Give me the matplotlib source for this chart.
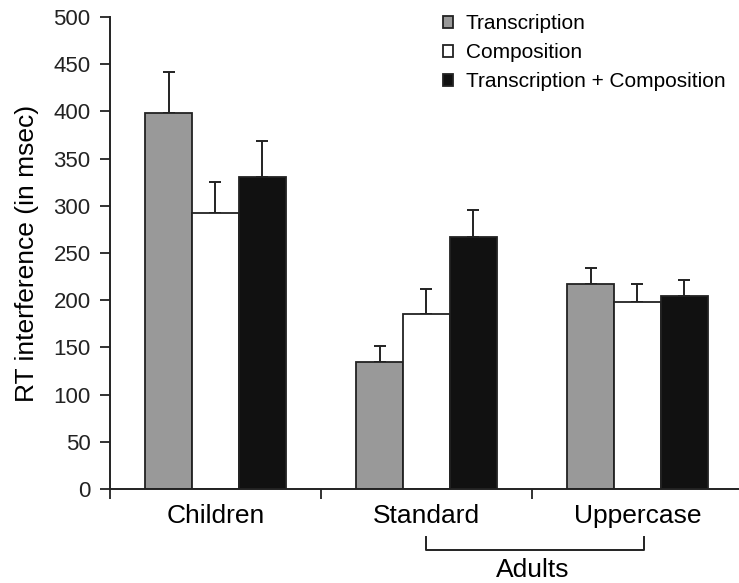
import matplotlib
matplotlib.use("Agg")
import matplotlib.pyplot as plt
import matplotlib.transforms as mtransforms
import numpy as np

plt.rcParams['font.family'] = ['Liberation Sans', 'DejaVu Sans']

categories = ["Children", "Standard", "Uppercase"]
series = ["Transcription", "Composition", "Transcription + Composition"]
transcription = [398, 135, 217]
composition = [292, 185, 198]
trans_comp = [331, 267, 204]
transcription_err = [44, 17, 17]
composition_err = [33, 27, 19]
trans_comp_err = [38, 29, 17]
yticks = [0, 50, 100, 150, 200, 250, 300, 350, 400, 450, 500]
group_label = "Adults"

values = [transcription, composition, trans_comp]
errors = [transcription_err, composition_err, trans_comp_err]
colors = ["#999999", "#ffffff", "#111111"]

W, H = 739, 583
fig = plt.figure(figsize=(W / 100, H / 100), dpi=100)
ax = fig.add_axes([110 / W, 94 / H, 633 / W, 472 / H])

x = np.arange(len(categories))
bw = 0.222
for i, (vals, errs, col) in enumerate(zip(values, errors, colors)):
    pos = x + (i - 1) * bw
    ax.bar(pos, vals, width=bw, color=col, edgecolor="#222222", linewidth=1.3,
           label=series[i], zorder=2)
    ax.errorbar(pos, vals, yerr=[np.zeros(len(errs)), errs], fmt="none",
                ecolor="#222222", elinewidth=1.4, capsize=4.5, capthick=1.4, zorder=1)

ax.set_xlim(-0.5, 2.5)
ax.set_ylim(0, 500)
ax.set_yticks(yticks)
ax.tick_params(axis="y", labelsize=16, length=7, width=1.3, pad=7, colors="#222222")
ax.set_xticks(x)
ax.set_xticklabels(categories, fontsize=19)
ax.tick_params(axis="x", length=0, pad=11)
ax.set_xticks([-0.5, 0.5, 1.5], minor=True)
ax.tick_params(axis="x", which="minor", length=7, width=1.3, colors="#222222")
for s in ["top", "right"]:
    ax.spines[s].set_visible(False)
for s in ["left", "bottom"]:
    ax.spines[s].set_linewidth(1.4)
    ax.spines[s].set_color("#222222")

ax.set_ylabel("RT interference (in msec)", fontsize=19, labelpad=10)

trans = mtransforms.blended_transform_factory(ax.transData, ax.transAxes)
ax.plot([1.0, 1.0, 2.03, 2.03], [-0.102, -0.129, -0.129, -0.102], transform=trans,
        color="#222222", lw=1.4, clip_on=False)
ax.text(1.505, -0.172, group_label, transform=trans, ha="center", va="center", fontsize=19)

leg = ax.legend(loc="upper left", bbox_to_anchor=(443 / W, 1 - 14 / H),
                bbox_transform=fig.transFigure, frameon=False, fontsize=15,
                handlelength=0.5, handleheight=0.5, handletextpad=0.6,
                labelspacing=0.48, borderpad=0, borderaxespad=0)

fig.savefig("out.png", dpi=100)
